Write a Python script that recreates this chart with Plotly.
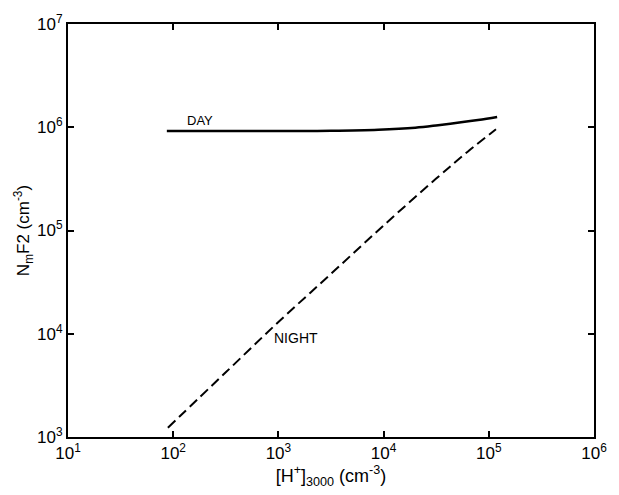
import plotly.graph_objects as go

# Day curve
day_h = [87, 1000, 3160, 8900, 20000, 33000, 79000, 120000]
day_n = [918000, 918000, 923000, 944000, 989000, 1047000, 1175000, 1259000]

# Night curve
night_h = [89, 316, 1000, 3160, 10000, 31600, 63000, 117000]
night_n = [1230, 4230, 13000, 38000, 112000, 318000, 580000, 955000]

x_ticks = [1e1, 1e2, 1e3, 1e4, 1e5, 1e6]
x_ticktext = ["10<sup>1</sup>", "10<sup>2</sup>", "10<sup>3</sup>", "10<sup>4</sup>", "10<sup>5</sup>", "10<sup>6</sup>"]
y_ticks = [1e3, 1e4, 1e5, 1e6, 1e7]
y_ticktext = ["10<sup>3</sup>", "10<sup>4</sup>", "10<sup>5</sup>", "10<sup>6</sup>", "10<sup>7</sup>"]

fig = go.Figure()
fig.add_trace(go.Scatter(x=day_h, y=day_n, mode="lines", line=dict(color="black", width=2.5, shape="spline"),
                         showlegend=False, hoverinfo="skip"))
fig.add_trace(go.Scatter(x=night_h, y=night_n, mode="lines",
                         line=dict(color="black", width=2, dash="10px,5px", shape="spline", smoothing=1),
                         showlegend=False, hoverinfo="skip"))

font_family = "Liberation Sans, Arial, sans-serif"
fig.add_annotation(x=2.25, y=5.963, xref="x", yref="y", text="DAY", showarrow=False,
                   font=dict(size=13, family=font_family, color="black"), yanchor="bottom", yshift=1)
fig.add_annotation(x=3.166, y=3.955, xref="x", yref="y", text="NIGHT", showarrow=False,
                   font=dict(size=14, family=font_family, color="black"))

axis_common = dict(showline=True, linecolor="black", linewidth=2, mirror="ticks", ticks="inside",
                   ticklen=6, tickwidth=1.5, tickcolor="black", showgrid=False, zeroline=False,
                   ticklabeloverflow="allow",
                   tickfont=dict(size=17, family=font_family, color="black"))

fig.update_xaxes(type="log", range=[1, 6], tickvals=x_ticks, ticktext=x_ticktext,
                 title=dict(text="[H<sup>+</sup>]<sub>3000</sub> (cm<sup>-3</sup>)",
                            font=dict(size=18, family=font_family, color="black"), standoff=7),
                 **axis_common)
fig.update_yaxes(type="log", range=[3, 7], tickvals=y_ticks, ticktext=y_ticktext,
                 title=dict(text="N<sub>m</sub>F2 (cm<sup>-3</sup>)",
                            font=dict(size=17, family=font_family, color="black"), standoff=3),
                 **axis_common)

fig.update_layout(width=619, height=495, margin=dict(l=68, r=23, t=16, b=57),
                  plot_bgcolor="white", paper_bgcolor="white")

# remove the browser's default 8px body margin so the figure fills the window exactly
fig.write_html("out.html", config={"displayModeBar": False},
               post_script="document.body.style.margin='0';")
